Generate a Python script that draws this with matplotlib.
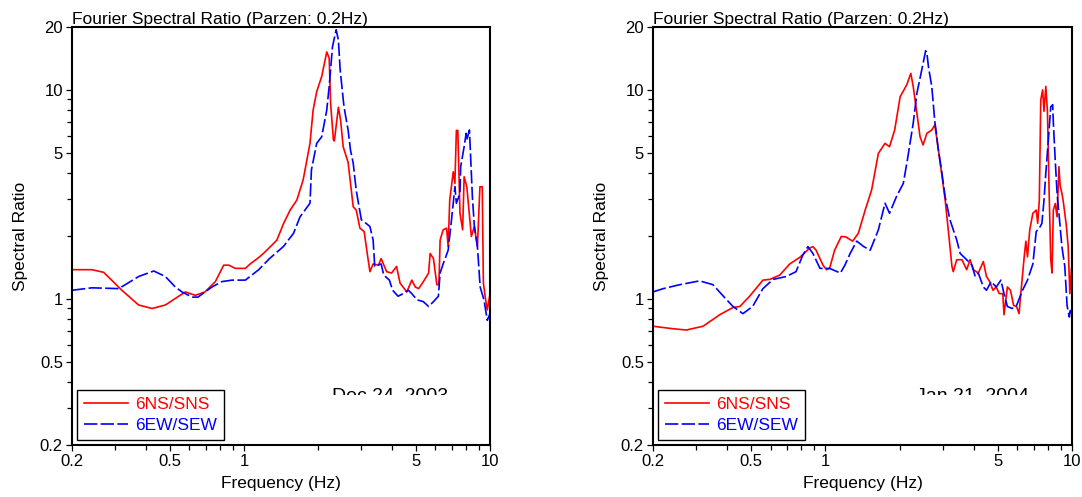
import matplotlib
matplotlib.use("Agg")
from matplotlib import pyplot as plt
from matplotlib.ticker import FixedLocator, FixedFormatter, NullFormatter
from matplotlib.transforms import Bbox, TransformedBbox

plt.rcParams['font.family'] = ['Liberation Sans', 'DejaVu Sans']

# Dec 24, 2003 event
dec_ns_f = [0.2, 0.241, 0.269, 0.319, 0.373, 0.423, 0.479, 0.543, 0.578, 0.634, 0.694, 0.765, 0.827,
            0.868, 0.922, 1.013, 1.06, 1.15, 1.2, 1.3, 1.36, 1.45, 1.54, 1.64, 1.74, 1.855, 1.91, 1.975,
            2.07, 2.17, 2.22, 2.25, 2.31, 2.33, 2.42, 2.47, 2.53, 2.65, 2.74, 2.78, 2.86, 2.96, 3.08,
            3.17, 3.25, 3.35, 3.52, 3.61, 3.8, 3.98, 4.17, 4.31, 4.59, 4.81, 4.97, 5.13, 5.36, 5.63,
            5.71, 5.89, 6.08, 6.2, 6.27, 6.45, 6.66, 6.76, 6.86, 7.09, 7.2, 7.3, 7.4, 7.55, 7.74, 7.85,
            8.05, 8.4, 8.64, 8.89, 9.1, 9.3, 9.4, 9.6, 9.75, 10.0]
dec_ns_r = [1.38, 1.38, 1.34, 1.10, 0.935, 0.90, 0.935, 1.03, 1.08, 1.04, 1.08, 1.21, 1.45,
            1.45, 1.40, 1.40, 1.47, 1.58, 1.65, 1.81, 1.91, 2.30, 2.66, 2.97, 3.71, 5.55, 8.0, 9.8,
            11.6, 15.2, 14.2, 8.6, 5.76, 5.7, 8.26, 7.18, 5.35, 4.5, 3.2, 2.76, 2.66, 2.18, 2.10,
            1.65, 1.35, 1.47, 1.45, 1.56, 1.35, 1.33, 1.43, 1.19, 1.08, 1.23, 1.14, 1.12, 1.21, 1.33,
            1.65, 1.56, 1.17, 1.17, 1.91, 2.14, 2.18, 1.78, 2.97, 4.06, 3.57, 6.4, 6.4, 2.57, 2.14, 3.84,
            3.44, 1.99, 2.22, 1.78, 3.44, 3.44, 1.19, 0.99, 0.886, 1.06]
dec_ew_f = [0.2, 0.241, 0.31, 0.373, 0.43, 0.479, 0.526, 0.56, 0.615, 0.65, 0.741, 0.813, 0.894,
            1.013, 1.148, 1.27, 1.446, 1.59, 1.69, 1.855, 1.88, 1.975, 2.07, 2.17, 2.22, 2.29, 2.37,
            2.42, 2.46, 2.55, 2.65, 2.71, 2.78, 2.86, 3.0, 3.08, 3.25, 3.35, 3.4, 3.61, 3.7, 3.9,
            4.02, 4.23, 4.44, 4.66, 4.81, 5.05, 5.36, 5.63, 5.89, 6.17, 6.27, 6.45, 6.76, 6.95, 7.09,
            7.2, 7.3, 7.55, 7.6, 7.85, 8.0, 8.05, 8.25, 8.33, 8.48, 8.64, 8.89, 9.12, 9.45, 9.75, 10.0]
dec_ew_r = [1.10, 1.13, 1.12, 1.28, 1.36, 1.28, 1.14, 1.08, 1.02, 1.02, 1.14, 1.21, 1.23,
            1.23, 1.38, 1.56, 1.78, 2.06, 2.47, 2.87, 4.14, 5.55, 5.97, 8.0, 10.4, 16.1, 19.4,
            17.3, 12.5, 8.3, 6.43, 5.15, 4.46, 3.3, 2.39, 2.34, 2.22, 1.91, 1.43, 1.47, 1.30, 1.23,
            1.10, 1.03, 1.06, 1.10, 1.06, 0.99, 0.97, 0.92, 0.97, 1.03, 1.33, 1.47, 1.71, 2.30, 2.87,
            3.44, 2.87, 3.2, 4.29, 5.35, 6.2, 5.76, 6.43, 4.97, 3.08, 2.22, 1.78, 1.14, 0.99, 0.79, 0.85]

# Jan 21, 2004 event
jan_ns_f = [0.2, 0.241, 0.273, 0.319, 0.373, 0.422, 0.45, 0.493, 0.558, 0.595, 0.653, 0.717, 0.787,
            0.864, 0.89, 0.917, 0.978, 1.01, 1.04, 1.09, 1.16, 1.21, 1.29, 1.36, 1.45, 1.54, 1.64,
            1.745, 1.82, 1.91, 2.01, 2.14, 2.22, 2.27, 2.35, 2.42, 2.49, 2.58, 2.70, 2.78, 2.86, 2.96,
            3.06, 3.15, 3.26, 3.3, 3.41, 3.58, 3.74, 3.86, 3.98, 4.17, 4.37, 4.5, 4.64, 4.78, 4.93,
            5.07, 5.24, 5.3, 5.47, 5.63, 5.8, 5.96, 6.1, 6.2, 6.4, 6.5, 6.6, 6.74, 6.94, 7.16, 7.26,
            7.37, 7.47, 7.6, 7.7, 7.83, 7.95, 8.08, 8.2, 8.3, 8.4, 8.55, 8.7, 8.85, 8.95, 9.1, 9.2,
            9.35, 9.5, 9.65, 9.8, 9.95]
jan_ns_r = [0.74, 0.72, 0.71, 0.74, 0.84, 0.91, 0.92, 1.03, 1.23, 1.24, 1.30, 1.47, 1.58,
            1.75, 1.78, 1.71, 1.45, 1.38, 1.40, 1.71, 1.99, 1.98, 1.89, 2.06, 2.66, 3.32, 4.97,
            5.55, 5.35, 6.43, 9.28, 10.6, 12.0, 10.4, 7.73, 5.97, 5.45, 6.2, 6.43, 6.8, 5.35, 3.99,
            2.97, 2.14, 1.43, 1.35, 1.54, 1.54, 1.38, 1.54, 1.38, 1.33, 1.51, 1.28, 1.21, 1.10, 1.14,
            1.06, 1.06, 0.84, 1.14, 1.10, 0.93, 0.92, 0.85, 1.06, 1.59, 1.89, 1.59, 2.14, 2.57, 2.66, 2.3,
            2.97, 8.95, 10.0, 7.9, 10.4, 7.9, 3.2, 1.54, 1.33, 2.66, 2.86, 2.47, 4.29, 3.5, 3.2, 2.97,
            2.57, 2.2, 1.78, 1.06, 1.4]
jan_ew_f = [0.2, 0.22, 0.257, 0.309, 0.35, 0.386, 0.422, 0.463, 0.507, 0.558, 0.614, 0.694, 0.76,
            0.81, 0.85, 0.89, 0.951, 1.04, 1.15, 1.20, 1.26, 1.34, 1.43, 1.52, 1.64, 1.745, 1.82,
            1.94, 2.07, 2.15, 2.27, 2.35, 2.46, 2.55, 2.58, 2.62, 2.70, 2.78, 2.82, 2.86, 2.96, 3.06,
            3.2, 3.41, 3.52, 3.74, 3.93, 4.05, 4.17, 4.37, 4.5, 4.7, 4.93, 5.15, 5.3, 5.47, 5.72,
            5.96, 6.3, 6.6, 6.94, 7.16, 7.37, 7.55, 7.7, 7.83, 8.0, 8.2, 8.35, 8.4, 8.55, 8.7, 8.85,
            9.1, 9.35, 9.55, 9.75, 9.85, 10.0]
jan_ew_r = [1.08, 1.12, 1.17, 1.22, 1.17, 1.03, 0.92, 0.85, 0.92, 1.12, 1.24, 1.28, 1.35,
            1.62, 1.78, 1.65, 1.40, 1.40, 1.33, 1.45, 1.65, 1.89, 1.78, 1.71, 2.14, 2.87, 2.57,
            3.08, 3.57, 4.62, 6.92, 9.64, 12.5, 15.4, 15.0, 12.8, 10.4, 7.0, 6.2, 5.35, 4.1, 3.08,
            2.39, 1.91, 1.65, 1.54, 1.45, 1.28, 1.33, 1.14, 1.10, 1.21, 1.14, 1.23, 1.06, 0.92, 0.90,
            0.93, 1.10, 1.23, 1.47, 2.10, 2.18, 2.30, 2.97, 3.99, 5.55, 8.3, 8.5, 7.0, 4.62, 3.2, 2.57,
            1.78, 1.43, 0.93, 0.82, 0.88, 0.80]

x_ticks = [0.2, 0.3, 0.4, 0.5, 0.6, 0.7, 0.8, 0.9, 1, 2, 3, 4, 5, 6, 7, 8, 9, 10]
x_labels = {0.2: "0.2", 0.5: "0.5", 1: "1", 5: "5", 10: "10"}
y_ticks = [0.2, 0.3, 0.4, 0.5, 0.6, 0.7, 0.8, 0.9, 1, 2, 3, 4, 5, 6, 7, 8, 9, 10, 20]
y_labels = {0.2: "0.2", 0.5: "0.5", 1: "1", 5: "5", 10: "10", 20: "20"}

RED = "#ff0000"
BLUE = "#0000ff"


def panel(ax, f_ns, r_ns, f_ew, r_ew, date):
    ax.plot(f_ns, r_ns, color=RED, lw=1.2, label="6NS/SNS")
    ax.plot(f_ew, r_ew, color=BLUE, lw=1.2, dashes=(8, 2), label="6EW/SEW")
    ax.set_xscale("log")
    ax.set_yscale("log")
    ax.set_xlim(0.2, 10)
    ax.set_ylim(0.2, 20)

    ax.xaxis.set_major_locator(FixedLocator(list(x_labels)))
    ax.xaxis.set_major_formatter(FixedFormatter(list(x_labels.values())))
    ax.xaxis.set_minor_locator(FixedLocator([t for t in x_ticks if t not in x_labels]))
    ax.xaxis.set_minor_formatter(NullFormatter())
    ax.yaxis.set_major_locator(FixedLocator(list(y_labels)))
    ax.yaxis.set_major_formatter(FixedFormatter(list(y_labels.values())))
    ax.yaxis.set_minor_locator(FixedLocator([t for t in y_ticks if t not in y_labels]))
    ax.yaxis.set_minor_formatter(NullFormatter())
    ax.tick_params(which="major", direction="out", length=4.5, width=0.9, labelsize=12, pad=2)
    ax.tick_params(which="minor", direction="out", length=3.5, width=0.9)
    for s in ax.spines.values():
        s.set_linewidth(1.5)

    ax.set_title("Fourier Spectral Ratio (Parzen: 0.2Hz)", loc="left", fontsize=12.5, pad=1.5)
    ax.set_xlabel("Frequency (Hz)", fontsize=12.5)
    ax.set_ylabel("Spectral Ratio", fontsize=12.5)
    ax.xaxis.set_label_coords(0.5, -0.075)
    ax.yaxis.set_label_coords(-0.105, 0.5)

    leg = ax.legend(loc="lower left", bbox_to_anchor=(0.012, 0.012), borderaxespad=0,
                    fancybox=False, edgecolor="black", framealpha=1, fontsize=12.5,
                    handlelength=2.5, labelcolor="linecolor", borderpad=0.42,
                    labelspacing=0.3, handletextpad=0.4)
    leg.get_frame().set_linewidth(1.0)

    t = ax.text(0.762, 0.106, date, transform=ax.transAxes, ha="center", va="baseline",
                fontsize=14, zorder=1)
    t.set_clip_box(TransformedBbox(Bbox([[0, 0.12], [1, 1]]), ax.transAxes))
    t.set_clip_on(True)


fig = plt.figure(figsize=(10.82, 4.97), dpi=100)
ax1 = fig.add_axes([72 / 1082, 52 / 497, 418 / 1082, 418 / 497])
ax2 = fig.add_axes([653 / 1082, 52 / 497, 419 / 1082, 418 / 497])

panel(ax1, dec_ns_f, dec_ns_r, dec_ew_f, dec_ew_r, "Dec 24, 2003")
panel(ax2, jan_ns_f, jan_ns_r, jan_ew_f, jan_ew_r, "Jan 21, 2004")

fig.savefig("out.png", dpi=100)
